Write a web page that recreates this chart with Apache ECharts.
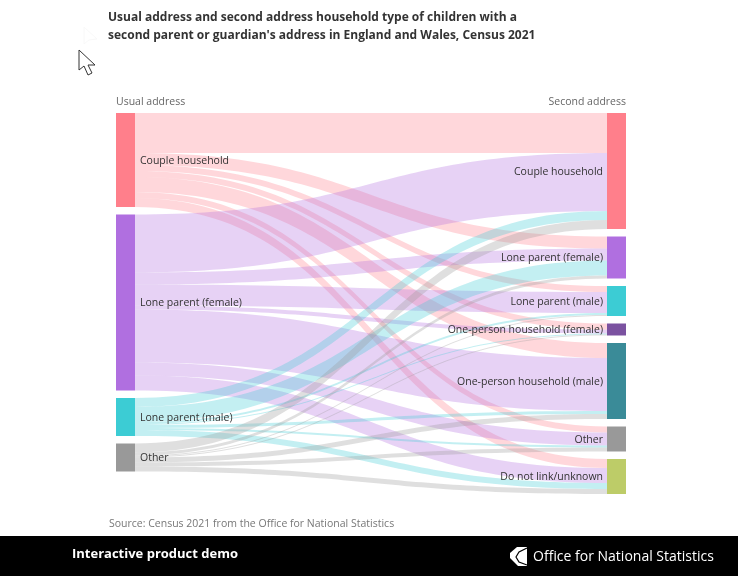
<!DOCTYPE html>
<html>
<head>
<meta charset="utf-8">
<style>html,body{margin:0;padding:0;background:#fff}#chart{width:738px;height:576px}</style>
<script src="https://cdn.jsdelivr.net/npm/echarts@6/dist/echarts.min.js"></script>
</head>
<body>
<div id="chart"></div>
<script>
// household types, top to bottom
var usualNames = ['Couple household', 'Lone parent (female)', 'Lone parent (male)', 'Other'];
var secondNames = ['Couple household', 'Lone parent (female)', 'Lone parent (male)',
  'One-person household (female)', 'One-person household (male)', 'Other', 'Do not link/unknown'];

// flows, one list per usual address, in secondNames order
var fromCouple = [40, 12, 6, 6, 15, 6, 9];
var fromLoneFemale = [58, 12, 21, 4, 53, 13, 15];
var fromLoneMale = [9, 15, 2, 1, 3, 2, 6];
var fromOther = [9, 3, 1, 1, 5, 4, 5];
var flows = [fromCouple, fromLoneFemale, fromLoneMale, fromOther];

var usualColors = ['#ff7f8b', '#b06fe0', '#3cccd4', '#999999'];
var secondColors = ['#ff7f8b', '#b06fe0', '#3cccd4', '#7b52a0', '#3a8b98', '#999999', '#bdcc68'];

var font = '"Open Sans", sans-serif';
var nodes = [];
var links = [];

usualNames.forEach(function (name, i) {
  nodes.push({
    name: 'U:' + name,
    itemStyle: { color: usualColors[i] },
    label: { position: 'right', distance: 5 }
  });
});
secondNames.forEach(function (name, i) {
  nodes.push({
    name: 'S:' + name,
    itemStyle: { color: secondColors[i] },
    label: { position: 'left', distance: 4 }
  });
});
flows.forEach(function (row, i) {
  row.forEach(function (value, j) {
    links.push({
      source: 'U:' + usualNames[i],
      target: 'S:' + secondNames[j],
      value: value,
      lineStyle: { color: usualColors[i] }
    });
  });
});

var chart = echarts.init(document.getElementById('chart'), null, { renderer: 'canvas' });
chart.setOption({
  animation: false,
  title: {
    text: "Usual address and second address household type of children with a\nsecond parent or guardian's address in England and Wales, Census 2021",
    left: 103,
    top: 4,
    textStyle: { fontFamily: font, fontSize: 12, fontWeight: 'bold', color: '#333', lineHeight: 18 }
  },
  series: [{
    type: 'sankey',
    left: 116,
    right: 112,
    top: 113,
    height: 381,
    nodeWidth: 19,
    nodeGap: 7.5,
    layoutIterations: 0,
    nodeAlign: 'justify',
    draggable: false,
    silent: true,
    data: nodes,
    links: links,
    itemStyle: { borderWidth: 0, opacity: 1 },
    lineStyle: { curveness: 0.5, opacity: 0.31 },
    label: {
      fontFamily: font,
      fontSize: 10.5,
      color: '#333',
      offset: [0, 1],
      formatter: function (p) { return p.name.slice(2); }
    }
  }],
  graphic: [
    { type: 'text', left: 116, top: 97, style: { text: 'Usual address', font: '10.5px ' + font, fill: '#666' } },
    { type: 'text', right: 112, top: 97, style: { text: 'Second address', font: '10.5px ' + font, fill: '#666' } },
    { type: 'text', left: 109, top: 519, style: { text: 'Source: Census 2021 from the Office for National Statistics', font: '10.5px ' + font, fill: '#777' } },
    // footer bar
    { type: 'rect', shape: { x: 0, y: 536, width: 738, height: 40 }, style: { fill: '#000' } },
    { type: 'text', left: 72, top: 548, style: { text: 'Interactive product demo', font: 'bold 13px ' + font, fill: '#fff' } },
    { type: 'text', left: 533, top: 550, style: { text: 'Office for National Statistics', font: '14px ' + font, fill: '#fff' } },
    { type: 'polygon', shape: { points: [[510, 553], [517, 547], [527, 547], [527, 566], [518, 566], [510, 558]] }, style: { fill: '#fff' } },
    { type: 'polyline', shape: { points: [[527, 548], [519, 552], [516, 557], [519, 562], [527, 565]] }, style: { stroke: '#000', fill: null, lineWidth: 1.2 } },
    // mouse pointer from the screen recording
    { type: 'polygon', shape: { points: [[79, 50], [79, 70], [84, 66], [88, 75], [92, 73], [88, 65], [95, 65]] }, style: { fill: '#fff', stroke: '#333', lineWidth: 1 } },
    { type: 'polygon', shape: { points: [[84, 27], [84, 44], [89, 40], [97, 39]] }, style: { fill: '#fff', stroke: '#f8f8f8', lineWidth: 1 } }
  ]
});
</script>
</body>
</html>
